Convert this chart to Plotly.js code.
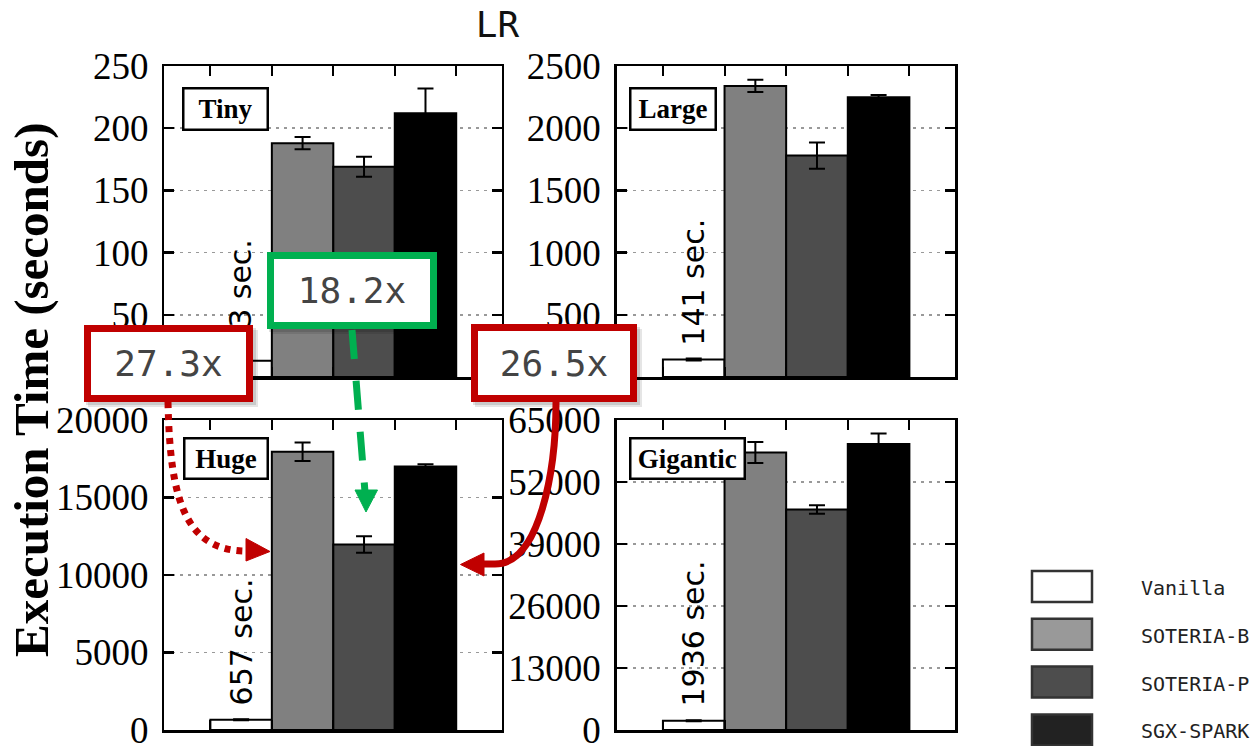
<!DOCTYPE html>
<html>
<head>
<meta charset="utf-8">
<script src="https://cdn.plot.ly/plotly-3.0.1.min.js"></script>
<style>html,body{margin:0;padding:0;background:#fff;}</style>
</head>
<body>
<div id="chart" style="width:1256px;height:746px;"></div>
<script>
// ---------------- data ----------------
const categories = ['Vanilla', 'SOTERIA-B', 'SOTERIA-P', 'SGX-SPARK'];
const sizes = ['Tiny', 'Large', 'Huge', 'Gigantic'];

const tinyTimes = [13, 188, 169, 212];
const tinyErr = [0.5, 5, 8, 20];
const largeTimes = [141, 2340, 1780, 2248];
const largeErr = [8, 50, 105, 18];
const hugeTimes = [657, 17950, 11970, 17000];
const hugeErr = [30, 600, 530, 150];
const giganticTimes = [1936, 58200, 46250, 59950];
const giganticErr = [100, 2200, 900, 2200];

const vanillaLabels = ['13 sec.', '141 sec.', '657 sec.', '1936 sec.'];
const yMax = [250, 2500, 20000, 65000];
const yStep = [50, 500, 5000, 13000];
const speedups = ['27.3x', '18.2x', '26.5x'];

const barColors = ['#ffffff', '#808080', '#4d4d4d', '#000000'];
const legendColors = ['#ffffff', '#999999', '#4d4d4d', '#222222'];

// ---------------- layout helpers ----------------
const W = 1256, H = 746;
const X = p => p / W;
const Y = p => 1 - p / H;

const times = [tinyTimes, largeTimes, hugeTimes, giganticTimes];
const errs = [tinyErr, largeErr, hugeErr, giganticErr];
const colDom = [[X(164.3), X(501.7)], [X(616.7), X(955)]];
const rowDom = [[Y(377), Y(66)], [Y(730), Y(420)]];
const suffix = ['', '2', '3', '4'];

const traces = [];
const layout = {
  width: W, height: H,
  margin: {l: 0, r: 0, t: 0, b: 0},
  paper_bgcolor: '#fff', plot_bgcolor: '#fff',
  showlegend: false,
  bargap: 0,
  title: {text: 'LR', x: X(497.5), xanchor: 'center', y: Y(24), yanchor: 'middle',
          font: {family: 'DejaVu Sans Mono', size: 36, color: '#111'}},
  annotations: [],
  shapes: []
};

for (let i = 0; i < 4; i++) {
  const s = suffix[i];
  traces.push({
    type: 'bar',
    x: categories,
    y: times[i],
    xaxis: 'x' + s, yaxis: 'y' + s,
    marker: {color: barColors, line: {color: '#000', width: 2}},
    error_y: {type: 'data', array: errs[i], visible: true, color: '#000', thickness: 2, width: 8},
    hoverinfo: 'skip'
  });
  const col = i % 2, row = Math.floor(i / 2);
  layout['xaxis' + s] = {
    domain: colDom[col], anchor: 'y' + s, type: 'category',
    range: [-1.25, 4.24], fixedrange: true,
    showticklabels: false, ticks: 'inside', tickson: 'boundaries',
    ticklen: 10, tickwidth: 2, tickcolor: '#000',
    showline: true, linecolor: '#000', linewidth: 2.5, mirror: 'allticks',
    showgrid: false, zeroline: false
  };
  layout['yaxis' + s] = {
    domain: rowDom[row], anchor: 'x' + s,
    range: [0, yMax[i]], dtick: yStep[i], tick0: 0, fixedrange: true,
    tickformat: 'd', exponentformat: 'none', ticklabeloverflow: 'allow',
    ticks: 'inside', ticklen: 10, tickwidth: 2.5, tickcolor: '#000',
    showline: true, linecolor: '#000', linewidth: 2.5, mirror: 'allticks',
    showgrid: true, gridcolor: '#999', gridwidth: 1.5, griddash: '3px,5px',
    zeroline: false, ticklabelstandoff: 6,
    tickfont: {family: 'Liberation Serif', size: 37, color: '#000'}
  };
  // vertical label above the Vanilla bar
  layout.annotations.push({
    xref: 'x' + s, yref: 'y' + s, x: 0, y: times[i][0],
    text: vanillaLabels[i], textangle: -90, showarrow: false,
    xanchor: 'center', yanchor: 'bottom', yshift: 12,
    font: {family: 'DejaVu Sans', size: 30, color: '#000'}
  });
}

// dataset name boxes
const nameBoxes = [[182.3, 86.7, 87, 43.5], [629.3, 87.3, 88, 44], [183, 437.3, 86, 43], [629.3, 437.3, 116.5, 43]];
for (let i = 0; i < 4; i++) {
  const b = nameBoxes[i];
  layout.annotations.push({
    xref: 'paper', yref: 'paper', x: X(b[0]), y: Y(b[1]), xanchor: 'left', yanchor: 'top',
    text: '<b>' + sizes[i] + '</b>', showarrow: false,
    width: b[2] - 5, height: b[3] - 5, borderpad: 0, borderwidth: 2.5,
    bordercolor: '#000', bgcolor: '#fff', align: 'center', valign: 'middle',
    font: {family: 'Liberation Serif', size: 27, color: '#000'}
  });
}

// y-axis title
layout.annotations.push({
  xref: 'paper', yref: 'paper', x: X(31), y: Y(390), xanchor: 'center', yanchor: 'middle',
  text: '<b>Execution Time (seconds)</b>', textangle: -90, showarrow: false,
  font: {family: 'Liberation Serif', size: 49, color: '#000'}
});

// callout boxes: [left, top, right, bottom], colour
const red = '#c00000', green = '#00b050';
const callouts = [[84, 325, 253, 402, red], [267, 252, 437, 329, green], [471, 324, 637, 402, red]];
for (let i = 0; i < 3; i++) {
  const c = callouts[i];
  // shadow
  layout.shapes.push({type: 'rect', xref: 'paper', yref: 'paper', layer: 'above',
    x0: X(c[0] + 4), x1: X(c[2] + 5), y0: Y(c[1] + 5), y1: Y(c[3] + 5),
    fillcolor: 'rgba(0,0,0,0.10)', line: {width: 0}});
  layout.shapes.push({type: 'rect', xref: 'paper', yref: 'paper', layer: 'above',
    x0: X(c[0] + 2), x1: X(c[2] + 3), y0: Y(c[1] + 3), y1: Y(c[3] + 3),
    fillcolor: 'rgba(0,0,0,0.12)', line: {width: 0}});
  layout.annotations.push({
    xref: 'paper', yref: 'paper', x: X((c[0] + c[2]) / 2), y: Y((c[1] + c[3]) / 2),
    xanchor: 'center', yanchor: 'middle', text: speedups[i], showarrow: false,
    width: c[2] - c[0] - 14, height: c[3] - c[1] - 14, borderpad: 0, borderwidth: 7,
    bordercolor: c[4], bgcolor: '#fff', align: 'center', valign: 'middle',
    font: {family: 'DejaVu Sans Mono', size: 36, color: '#444'}
  });
}

function path(cmds) {
  return cmds.map(c => c[0] + (c.length > 1 ? ' ' + c.slice(1).map((v, k) => k % 2 === 0 ? X(v) : Y(v)).join(',') : '')).join(' ');
}
// arrows
layout.shapes.push({type: 'path', xref: 'paper', yref: 'paper', layer: 'above',
  path: path([['M', 168, 402], ['C', 170, 500, 185, 551, 247, 551]]),
  line: {color: red, width: 7, dash: '6px,6px'}});
layout.shapes.push({type: 'path', xref: 'paper', yref: 'paper', layer: 'above',
  path: path([['M', 246, 538.5], ['L', 270, 551.5], ['L', 246, 561], ['Z']]),
  fillcolor: red, line: {color: red, width: 1}});

layout.shapes.push({type: 'path', xref: 'paper', yref: 'paper', layer: 'above',
  path: path([['M', 352, 330], ['L', 365, 492]]),
  line: {color: green, width: 7, dash: '29px,22px'}});
layout.shapes.push({type: 'path', xref: 'paper', yref: 'paper', layer: 'above',
  path: path([['M', 355, 490], ['L', 377.5, 490], ['L', 366, 512], ['Z']]),
  fillcolor: green, line: {color: green, width: 1}});

layout.shapes.push({type: 'path', xref: 'paper', yref: 'paper', layer: 'above',
  path: path([['M', 556, 402], ['C', 556, 470, 540, 564, 495, 564], ['L', 483, 564]]),
  line: {color: red, width: 7}});
layout.shapes.push({type: 'path', xref: 'paper', yref: 'paper', layer: 'above',
  path: path([['M', 484, 553], ['L', 460.5, 564.5], ['L', 484, 576], ['Z']]),
  fillcolor: red, line: {color: red, width: 1}});

// legend (drawn with shapes + text)
for (let i = 0; i < 4; i++) {
  const top = 571 + i * 47.8;
  layout.shapes.push({type: 'rect', xref: 'paper', yref: 'paper', layer: 'above',
    x0: X(1032), x1: X(1092), y0: Y(top), y1: Y(top + 31),
    fillcolor: legendColors[i], line: {color: '#333', width: 2.5}});
  layout.annotations.push({
    xref: 'paper', yref: 'paper', x: X(1139), y: Y(top + 17), xanchor: 'left', yanchor: 'middle',
    text: categories[i], showarrow: false,
    font: {family: 'DejaVu Sans Mono', size: 20, color: '#222'}
  });
}

Plotly.newPlot('chart', traces, layout, {staticPlot: true, displayModeBar: false});
</script>
</body>
</html>
